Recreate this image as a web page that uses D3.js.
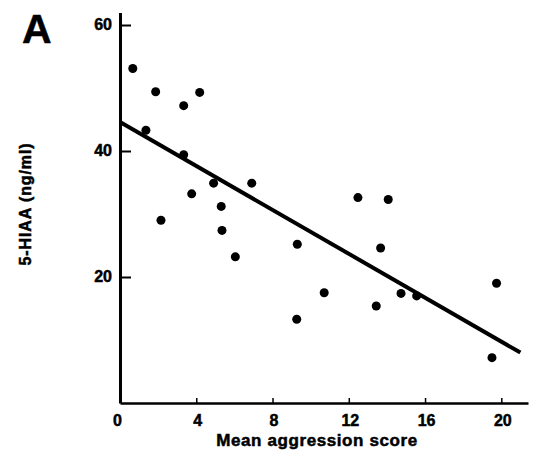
<!DOCTYPE html>
<html>
<head>
<meta charset="utf-8">
<script src="https://cdn.jsdelivr.net/npm/d3@7"></script>
<style>
  body { margin: 0; background: #fff; }
  svg text { font-family: "Liberation Sans", Arial, sans-serif; font-weight: bold; fill: #000; stroke: #000; stroke-width: 0.5px; }
</style>
</head>
<body>
<div id="chart"></div>
<script>
// Mean aggression score vs 5-HIAA
var aggression = [0.67, 1.87, 4.18, 3.34, 1.36, 3.34, 4.91, 6.91, 3.76, 5.31, 2.15, 5.35,
                  6.05, 9.30, 10.71, 9.27, 12.48, 14.07, 13.67, 14.74, 15.56, 13.44, 19.75, 19.51];
var hiaa = [53.1, 49.4, 49.3, 47.2, 43.3, 39.4, 34.9, 34.9, 33.2, 31.2, 29.0, 27.4,
            23.2, 25.2, 17.5, 13.3, 32.6, 32.3, 24.6, 17.4, 17.0, 15.4, 19.0, 7.2];

// fitted line end points
var fitX = [0, 21];
var fitY = [44.6, 8.0];

var xTicks = [0, 4, 8, 12, 16, 20];
var yTicks = [20, 40, 60];

var width = 538, height = 463;

var svg = d3.select("#chart").append("svg").attr("width", width).attr("height", height);

var xScale = d3.scaleLinear().domain([0, 21.4]).range([120, 528]);
var yScale = d3.scaleLinear().domain([0, 62]).range([403, 12.4]);

// x axis
var bottomAxis = d3.axisBottom(xScale).tickValues(xTicks).tickSizeInner(-5).tickSizeOuter(0).tickPadding(12);
var gx = svg.append("g").attr("transform", "translate(0,403)").call(bottomAxis);
gx.select(".domain").attr("stroke-width", 2.5);
gx.selectAll(".tick line").attr("stroke-width", 1.5).filter(function(d) { return d === 0; }).remove();
gx.selectAll(".tick text").style("font-size", "16px").attr("dx", function(d) { return d === 0 ? -3 : 1; });

// y axis
var leftAxis = d3.axisLeft(yScale).tickValues(yTicks).tickSizeInner(-11).tickSizeOuter(0).tickPadding(8);
var gy = svg.append("g").attr("transform", "translate(120,0)").call(leftAxis);
gy.select(".domain").attr("stroke-width", 3);
gy.selectAll(".tick line").attr("stroke-width", 2);
gy.selectAll(".tick text").style("font-size", "16px").attr("dy", "0.3em");

// regression line
var line = d3.line().x(function(d, i) { return xScale(d); }).y(function(d, i) { return yScale(fitY[i]); });
svg.append("path").attr("d", line(fitX)).attr("fill", "none").attr("stroke", "#000").attr("stroke-width", 4);

// points
svg.selectAll("circle.pt").data(aggression).enter().append("circle")
  .attr("class", "pt")
  .attr("cx", function(d) { return xScale(d); })
  .attr("cy", function(d, i) { return yScale(hiaa[i]); })
  .attr("r", 4.5)
  .attr("fill", "#000");

// axis titles
svg.append("text").attr("x", 317).attr("y", 446).attr("text-anchor", "middle")
  .style("font-size", "17px").style("letter-spacing", "0.6px").text("Mean aggression score");

svg.append("text").attr("transform", "translate(31,204) rotate(-90)").attr("text-anchor", "middle")
  .style("font-size", "16px").style("letter-spacing", "0.9px").text("5-HIAA (ng/ml)");

// panel letter
svg.append("text").attr("x", 22).attr("y", 43).style("font-size", "41px").text("A");
</script>
</body>
</html>
